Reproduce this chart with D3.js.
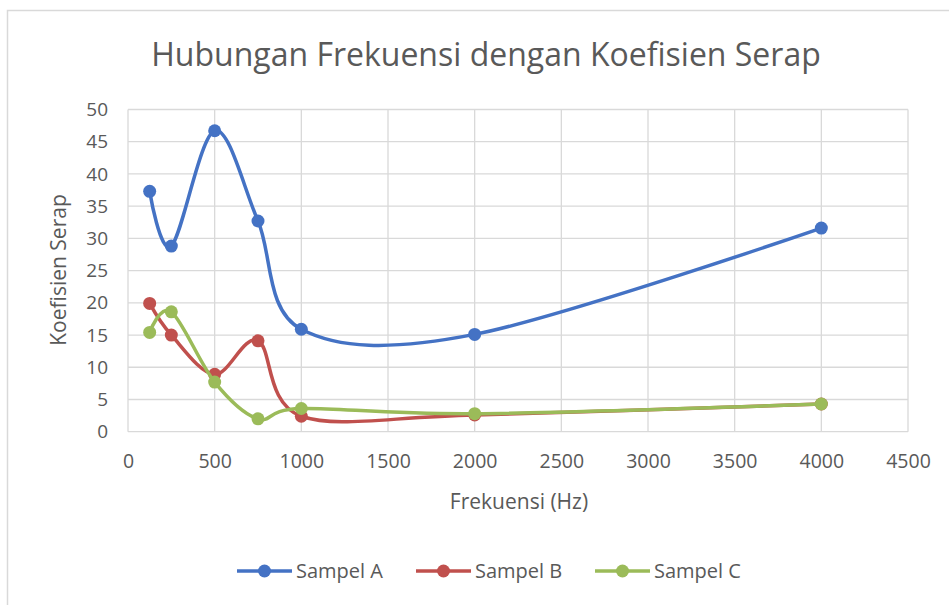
<!DOCTYPE html>
<html>
<head>
<meta charset="utf-8">
<script src="https://cdn.jsdelivr.net/npm/d3@7"></script>
<style>
  body { margin: 0; background: #fff; }
  text { font-family: "Open Sans", sans-serif; fill: #595959; }
</style>
</head>
<body>
<div id="chart"></div>
<script>
// Data
const frequencies = [125, 250, 500, 750, 1000, 2000, 4000];
const sampelA = [37.3, 28.8, 46.7, 32.7, 15.9, 15.1, 31.6];
const sampelB = [19.9, 15.0, 8.9, 14.1, 2.4, 2.6, 4.3];
const sampelC = [15.4, 18.6, 7.7, 2.0, 3.6, 2.8, 4.3];
const seriesNames = ["Sampel A", "Sampel B", "Sampel C"];
const xTicks = [0, 500, 1000, 1500, 2000, 2500, 3000, 3500, 4000, 4500];
const yTicks = [0, 5, 10, 15, 20, 25, 30, 35, 40, 45, 50];

const colors = ["#4472C4", "#C0504D", "#9BBB59"];

function createChart() {
    const width = 949;
    const height = 605;
    const plot = { left: 128, right: 908, top: 109.5, bottom: 431.7 };

    const svg = d3.select("#chart")
        .append("svg")
        .attr("width", width)
        .attr("height", height);

    // outer chart frame
    svg.append("rect")
        .attr("x", 7.5)
        .attr("y", 10.5)
        .attr("width", width + 20)
        .attr("height", height + 20)
        .attr("fill", "none")
        .attr("stroke", "#d9d9d9")
        .attr("stroke-width", 1.5);

    const x = d3.scaleLinear().domain([0, 4500]).range([plot.left, plot.right]);
    const y = d3.scaleLinear().domain([0, 50]).range([plot.bottom, plot.top]);

    // gridlines
    svg.append("g")
        .selectAll("line")
        .data(yTicks)
        .join("line")
        .attr("x1", plot.left)
        .attr("x2", plot.right)
        .attr("y1", d => y(d))
        .attr("y2", d => y(d))
        .attr("stroke", "#d9d9d9")
        .attr("stroke-width", 1.3);

    svg.append("g")
        .selectAll("line")
        .data(xTicks)
        .join("line")
        .attr("x1", d => x(d))
        .attr("x2", d => x(d))
        .attr("y1", plot.top)
        .attr("y2", plot.bottom)
        .attr("stroke", "#d9d9d9")
        .attr("stroke-width", 1.3);

    // axes (labels only, Excel style)
    const xAxis = svg.append("g")
        .attr("transform", `translate(0,${plot.bottom})`)
        .call(d3.axisBottom(x).tickValues(xTicks).tickFormat(d3.format("d")).tickSize(0).tickPadding(22));
    xAxis.select(".domain").remove();
    xAxis.selectAll("text")
        .style("font-size", "19.5px")
        .attr("fill", "#595959");

    const yAxis = svg.append("g")
        .attr("transform", `translate(${plot.left},0)`)
        .call(d3.axisLeft(y).tickValues(yTicks).tickSize(0).tickPadding(20));
    yAxis.select(".domain").remove();
    yAxis.selectAll("text")
        .style("font-size", "19px")
        .attr("fill", "#595959");

    // title and axis titles
    svg.append("text")
        .attr("x", 486)
        .attr("y", 66)
        .attr("text-anchor", "middle")
        .style("font-size", "32px")
        .text("Hubungan Frekuensi dengan Koefisien Serap");

    svg.append("text")
        .attr("x", 519)
        .attr("y", 509)
        .attr("text-anchor", "middle")
        .style("font-size", "21px")
        .text("Frekuensi (Hz)");

    svg.append("text")
        .attr("transform", "translate(66,270) rotate(-90)")
        .attr("text-anchor", "middle")
        .style("font-size", "21px")
        .text("Koefisien Serap");

    // series
    const allSeries = [sampelA, sampelB, sampelC];
    const line = d3.line()
        .x((d, i) => x(frequencies[i]))
        .y(d => y(d))
        .curve(d3.curveCardinal.tension(0));

    allSeries.forEach((values, s) => {
        const g = svg.append("g");
        g.append("path")
            .datum(values)
            .attr("d", line)
            .attr("fill", "none")
            .attr("stroke", colors[s])
            .attr("stroke-width", 3.5);
        g.selectAll("circle")
            .data(values)
            .join("circle")
            .attr("cx", (d, i) => x(frequencies[i]))
            .attr("cy", d => y(d))
            .attr("r", 6.5)
            .attr("fill", colors[s]);
    });

    // legend
    const legend = svg.append("g");
    let lx = 237;
    const ly = 571;
    seriesNames.forEach((name, s) => {
        const item = legend.append("g");
        item.append("line")
            .attr("x1", lx)
            .attr("x2", lx + 55)
            .attr("y1", ly)
            .attr("y2", ly)
            .attr("stroke", colors[s])
            .attr("stroke-width", 3.5);
        item.append("circle")
            .attr("cx", lx + 27.5)
            .attr("cy", ly)
            .attr("r", 6.5)
            .attr("fill", colors[s]);
        item.append("text")
            .attr("x", lx + 59)
            .attr("y", ly + 7)
            .style("font-size", "20px")
            .text(name);
        lx += 179;
    });
}

createChart();
</script>
</body>
</html>
